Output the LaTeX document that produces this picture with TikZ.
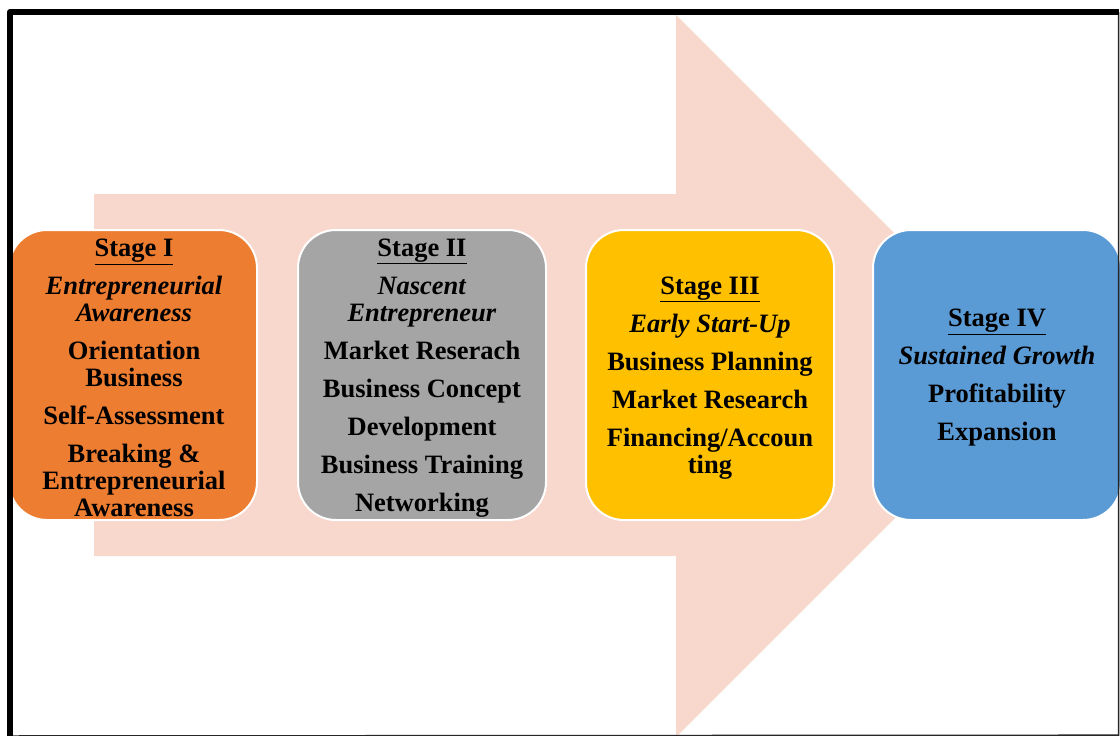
\documentclass[tikz,border=0pt]{standalone}
\usepackage{fontspec}
\setmainfont{Liberation Serif}
\definecolor{arrowpink}{HTML}{F8D8CD}
\definecolor{stOrange}{HTML}{ED7D31}
\definecolor{stGray}{HTML}{A5A5A5}
\definecolor{stGold}{HTML}{FFC000}
\definecolor{stBlue}{HTML}{5B9BD5}
\tikzset{
  stagebox/.style={draw=white, line width=2pt, rounded corners=38pt,
    minimum width=248pt, minimum height=290pt, inner sep=0pt},
  stagetext/.style={align=center, text=black, inner sep=0pt, yshift=-3pt,
    font=\fontsize{26.5}{27}\selectfont\bfseries},
  frameline/.style={draw=black, line width=6pt},
  thinframe/.style={draw=black!85, line width=1.5pt}
}
\newcommand{\pg}{\\[11pt]}
\newcommand{\stitle}[1]{\underline{#1}}
\begin{document}
\begin{tikzpicture}[x=1pt,y=-1pt]
\useasboundingbox (0,0) rectangle (1120,736);
\fill[white] (0,0) rectangle (1120,736);
% big arrow
\fill[arrowpink] (94,194) -- (676,194) -- (676,15) -- (1037,376) -- (676,737) -- (676,556) -- (94,556) -- cycle;
% stage boxes
\node[stagebox, fill=stOrange] (s1) at (133,375) {};
\node[stagebox, fill=stGray] (s2) at (422,375) {};
\node[stagebox, fill=stGold] (s3) at (710,375) {};
\node[stagebox, fill=stBlue] (s4) at (997,375) {};
% stage texts
\node[stagetext] (t1) at (134,375)
  {\stitle{Stage I}\pg\textit{Entrepreneurial}\\\textit{Awareness}\pg Orientation\\Business\pg Self-Assessment\pg Breaking \&\\Entrepreneurial\\Awareness};
\node[stagetext] (t2) at (s2.center)
  {\stitle{Stage II}\pg\textit{Nascent}\\\textit{Entrepreneur}\pg Market Reserach\pg Business Concept\pg Development\pg Business Training\pg Networking};
\node[stagetext] (t3) at (s3.center)
  {\stitle{Stage III}\pg\textit{Early Start-Up}\pg Business Planning\pg Market Research\pg Financing/Accoun\\ting};
\node[stagetext] (t4) at (s4.center)
  {\stitle{Stage IV}\pg\textit{Sustained Growth}\pg Profitability\pg Expansion};
% frame
\coordinate (fbl) at (10,736);
\coordinate (ftl) at (10,12);
\coordinate (ftr) at (1118.5,12);
\coordinate (fbr) at (1118.5,735.2);
\draw[thinframe] (ftr) -- (fbr) -- (fbl);
\draw[frameline, line join=round] (fbl) -- (ftl) -- (ftr);
\end{tikzpicture}
\end{document}
